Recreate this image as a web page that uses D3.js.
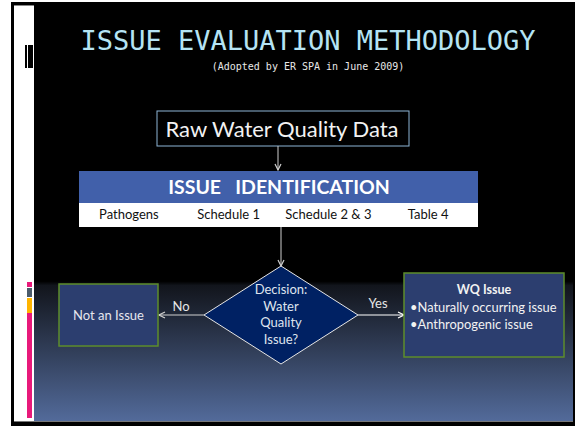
<!DOCTYPE html>
<html>
<head>
<meta charset="utf-8">
<script src="https://cdn.jsdelivr.net/npm/d3@7"></script>
<style>
  body { margin: 0; background: #fff; }
  svg { display: block; }
</style>
</head>
<body>
<script>
// slide texts
var title = "ISSUE EVALUATION METHODOLOGY";
var subtitle = "(Adopted by ER SPA in June 2009)";
var sourceLabel = "Raw Water Quality Data";
var headerLabel = "ISSUE\u00a0\u00a0\u00a0IDENTIFICATION";
var categories = ["Pathogens", "Schedule 1", "Schedule 2 & 3", "Table 4"];
var decisionLines = ["Decision:", "Water", "Quality", "Issue?"];
var noLabel = "No", yesLabel = "Yes";
var notIssueLabel = "Not an Issue";
var wqTitle = "WQ Issue";
var wqBullets = ["\u2022Naturally occurring issue", "\u2022Anthropogenic issue"];
var sideBars = [["#e8197a", 282, 287], ["#4b5b6b", 288, 297], ["#ffb400", 298, 313], ["#e8197a", 313, 418]];

var width = 577, height = 426;
var font = "Lato, 'Open Sans', sans-serif";

var svg = d3.select("body").append("svg").attr("width", width).attr("height", height);
var defs = svg.append("defs");

var grad = defs.append("linearGradient").attr("id", "bg")
    .attr("x1", 0).attr("y1", 0).attr("x2", 0).attr("y2", 1);
grad.append("stop").attr("offset", 0).attr("stop-color", "#000");
grad.append("stop").attr("offset", 0.665).attr("stop-color", "#000");
grad.append("stop").attr("offset", 0.675).attr("stop-color", "#12151c");
grad.append("stop").attr("offset", 1).attr("stop-color", "#536b9b");

["light", "white"].forEach(function(k) {
  defs.append("marker").attr("id", "arr-" + k)
      .attr("viewBox", "0 0 8 8").attr("refX", 7).attr("refY", 4)
      .attr("markerWidth", 8).attr("markerHeight", 8)
      .attr("markerUnits", "userSpaceOnUse").attr("orient", "auto")
    .append("path").attr("d", "M1,1 L7,4 L1,7")
      .attr("fill", "none").attr("stroke", k == "white" ? "#fff" : "#cfcfcf").attr("stroke-width", 1.2);
});

// frame
svg.append("rect").attr("x", 11).attr("y", 2).attr("width", 564).attr("height", 424).attr("fill", "#000");
svg.append("rect").attr("x", 14).attr("y", 5).attr("width", 20).attr("height", 417).attr("fill", "#fff");
svg.append("rect").attr("x", 14).attr("y", 5).attr("width", 20).attr("height", 1).attr("fill", "#888");
svg.append("rect").attr("x", 34).attr("y", 2).attr("width", 539).attr("height", 420).attr("fill", "url(#bg)");
svg.append("rect").attr("x", 14).attr("y", 421).attr("width", 559).attr("height", 1).attr("fill", "#777");

svg.append("rect").attr("x", 25).attr("y", 45).attr("width", 2).attr("height", 23).attr("fill", "#000");
svg.append("rect").attr("x", 28).attr("y", 45).attr("width", 5).attr("height", 23).attr("fill", "#000");
svg.selectAll("rect.side").data(sideBars).enter().append("rect").attr("class", "side")
    .attr("x", 27).attr("width", 5)
    .attr("y", function(d) { return d[1]; })
    .attr("height", function(d) { return d[2] - d[1]; })
    .attr("fill", function(d) { return d[0]; });

// title
svg.append("text").attr("x", 308).attr("y", 50).attr("text-anchor", "middle")
    .attr("font-family", "'DejaVu Sans Mono', monospace").attr("font-size", 27)
    .attr("fill", "#b5e4f4").text(title);
svg.append("text").attr("x", 308).attr("y", 70).attr("text-anchor", "middle")
    .attr("font-family", "'DejaVu Sans Mono', monospace").attr("font-size", 10)
    .attr("fill", "#e8e8e8").text(subtitle);

// raw data box
svg.append("rect").attr("x", 157).attr("y", 111).attr("width", 252).attr("height", 35)
    .attr("fill", "#000").attr("stroke", "#8db5d6").attr("stroke-width", 1);
svg.append("text").attr("x", 282).attr("y", 137).attr("text-anchor", "middle")
    .attr("font-family", font).attr("font-size", 22).attr("fill", "#f2f2f2").text(sourceLabel);

svg.append("line").attr("x1", 278).attr("y1", 146).attr("x2", 278).attr("y2", 170)
    .attr("stroke", "#cfcfcf").attr("marker-end", "url(#arr-light)");

// issue identification table
var col = d3.scaleBand().domain(categories).range([79, 478]);
svg.append("rect").attr("x", 79).attr("y", 171).attr("width", 399).attr("height", 32).attr("fill", "#4160aa");
svg.append("rect").attr("x", 79).attr("y", 203).attr("width", 399).attr("height", 24).attr("fill", "#fff");
svg.append("text").attr("x", 279).attr("y", 194).attr("text-anchor", "middle")
    .attr("font-family", font).attr("font-weight", "bold").attr("font-size", 19.5)
    .attr("fill", "#fff").text(headerLabel);
svg.selectAll("text.cat").data(categories).enter().append("text").attr("class", "cat")
    .attr("x", function(d) { return col(d) + col.bandwidth() / 2; })
    .attr("y", 219).attr("text-anchor", "middle")
    .attr("font-family", font).attr("font-size", 13).attr("fill", "#111")
    .text(function(d) { return d; });

// decision diamond
var cx = 281, cy = 315, hw = 77, hh = 49;
svg.append("line").attr("x1", cx).attr("y1", 227).attr("x2", cx).attr("y2", cy - hh)
    .attr("stroke", "#cfcfcf").attr("marker-end", "url(#arr-light)");
svg.append("path")
    .attr("d", d3.line()([[cx, cy - hh], [cx + hw, cy], [cx, cy + hh], [cx - hw, cy]]) + "Z")
    .attr("fill", "#002163").attr("stroke", "#e6e6e6").attr("stroke-width", 1);
svg.selectAll("text.dec").data(decisionLines).enter().append("text").attr("class", "dec")
    .attr("x", cx).attr("y", function(d, i) { return 294 + i * 16.7; })
    .attr("text-anchor", "middle").attr("font-family", font).attr("font-size", 13)
    .attr("fill", "#dfe4ee").text(function(d) { return d; });

// no branch
svg.append("line").attr("x1", cx - hw).attr("y1", cy).attr("x2", 159).attr("y2", cy)
    .attr("stroke", "#cfcfcf").attr("stroke-width", 1.2).attr("marker-end", "url(#arr-light)");
svg.append("text").attr("x", 181).attr("y", 311).attr("text-anchor", "middle")
    .attr("font-family", font).attr("font-size", 13).attr("fill", "#e6e6e6").text(noLabel);
svg.append("rect").attr("x", 59).attr("y", 284).attr("width", 99).attr("height", 62)
    .attr("fill", "#2c3e6f").attr("stroke", "#5d8d2b").attr("stroke-width", 1.5);
svg.append("text").attr("x", 108.5).attr("y", 320).attr("text-anchor", "middle")
    .attr("font-family", font).attr("font-size", 13).attr("fill", "#e6e6ee").text(notIssueLabel);

// yes branch
svg.append("line").attr("x1", cx + hw).attr("y1", cy).attr("x2", 404).attr("y2", cy)
    .attr("stroke", "#fff").attr("stroke-width", 1.2).attr("marker-end", "url(#arr-white)");
svg.append("text").attr("x", 378).attr("y", 308).attr("text-anchor", "middle")
    .attr("font-family", font).attr("font-size", 13).attr("fill", "#e6e6e6").text(yesLabel);
svg.append("rect").attr("x", 404).attr("y", 273).attr("width", 160).attr("height", 84)
    .attr("fill", "#2c3e6f").attr("stroke", "#5d8d2b").attr("stroke-width", 1.5);
svg.append("text").attr("x", 484).attr("y", 294).attr("text-anchor", "middle")
    .attr("font-family", font).attr("font-weight", "bold").attr("font-size", 12.5)
    .attr("fill", "#f2f2f2").text(wqTitle);
svg.selectAll("text.bul").data(wqBullets).enter().append("text").attr("class", "bul")
    .attr("x", 410).attr("y", function(d, i) { return 312 + i * 17; })
    .attr("font-family", font).attr("font-size", 12.9).attr("fill", "#f2f2f2")
    .text(function(d) { return d; });
</script>
</body>
</html>
